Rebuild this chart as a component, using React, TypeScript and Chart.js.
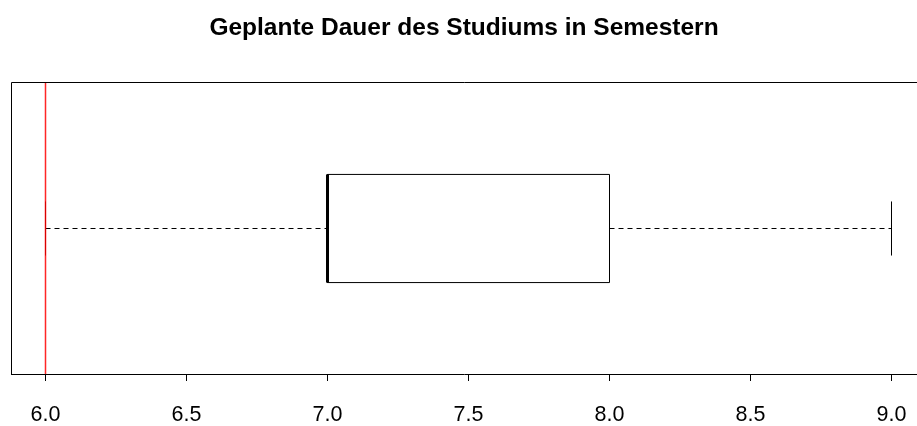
import React, { useEffect, useRef } from "react";
import { Chart, registerables } from "chart.js";

Chart.register(...registerables);

const titleText = "Geplante Dauer des Studiums in Semestern";
const whiskerLow = [6];
const quartile1 = [7];
const medianValue = [7];
const quartile3 = [8];
const whiskerHigh = [9];
const refLine = [6];
const tickValues = [6.0, 6.5, 7.0, 7.5, 8.0, 8.5, 9.0];

const BOX_HALF = 0.2;
const CAP_HALF = 0.1;
const CENTER = 1;

const framePlugin = {
  id: "frame",
  afterDraw(chart: any) {
    const { ctx, chartArea } = chart;
    ctx.save();
    ctx.strokeStyle = "#000";
    ctx.lineWidth = 1;
    ctx.beginPath();
    ctx.moveTo(Math.round(chartArea.left) + 0.5, Math.round(chartArea.bottom));
    ctx.lineTo(Math.round(chartArea.left) + 0.5, Math.round(chartArea.top) + 0.5);
    ctx.lineTo(chartArea.right + 2, Math.round(chartArea.top) + 0.5);
    ctx.stroke();
    ctx.restore();
  },
};

export default function App() {
  const ref = useRef<HTMLCanvasElement | null>(null);

  useEffect(() => {
    document.body.style.margin = "0";
    const canvas = ref.current;
    if (!canvas) return;
    Chart.defaults.font.family = "'Liberation Sans', Arial, sans-serif";
    Chart.defaults.color = "#000";

    const q1 = quartile1[0];
    const q3 = quartile3[0];
    const med = medianValue[0];
    const lo = whiskerLow[0];
    const hi = whiskerHigh[0];
    const yMin = 0.46185;
    const yMax = 1.54185;

    const blackLine = {
      showLine: true,
      borderColor: "#000",
      borderWidth: 1,
      pointRadius: 0,
      fill: false,
      order: 1,
    };

    const chart = new Chart(canvas, {
      type: "scatter",
      data: {
        datasets: [
          {
            ...blackLine,
            label: "whisker low",
            borderDash: [5, 4],
            data: [
              { x: lo, y: CENTER },
              { x: q1, y: CENTER },
            ],
          },
          {
            ...blackLine,
            label: "whisker high",
            borderDash: [5, 4],
            data: [
              { x: q3, y: CENTER },
              { x: hi, y: CENTER },
            ],
          },
          {
            ...blackLine,
            label: "cap low",
            data: [
              { x: lo, y: CENTER - CAP_HALF },
              { x: lo, y: CENTER + CAP_HALF },
            ],
          },
          {
            ...blackLine,
            label: "cap high",
            data: [
              { x: hi, y: CENTER - CAP_HALF },
              { x: hi, y: CENTER + CAP_HALF },
            ],
          },
          {
            ...blackLine,
            label: "box",
            data: [
              { x: q1, y: CENTER - BOX_HALF },
              { x: q3, y: CENTER - BOX_HALF },
              { x: q3, y: CENTER + BOX_HALF },
              { x: q1, y: CENTER + BOX_HALF },
              { x: q1, y: CENTER - BOX_HALF },
            ],
          },
          {
            ...blackLine,
            label: "median",
            borderWidth: 3,
            borderCapStyle: "butt",
            data: [
              { x: med, y: CENTER - BOX_HALF },
              { x: med, y: CENTER + BOX_HALF },
            ],
          },
          {
            ...blackLine,
            label: "reference",
            borderColor: "rgba(255,0,0,0.85)",
            borderWidth: 1.5,
            order: 0,
            data: [
              { x: refLine[0], y: yMin },
              { x: refLine[0], y: yMax },
            ],
          },
        ] as any,
      },
      options: {
        responsive: false,
        animation: false,
        layout: { padding: { left: 11, right: 0, top: 0, bottom: 0 } },
        plugins: {
          legend: { display: false },
          tooltip: { enabled: false },
          title: {
            display: true,
            text: titleText,
            font: { size: 24.5, weight: "bold" },
            color: "#000",
            padding: { top: 14, bottom: 38.6 },
          },
        },
        scales: {
          x: {
            type: "linear",
            min: 5.87766,
            max: 9.0904,
            grid: {
              drawOnChartArea: false,
              drawTicks: true,
              tickLength: 7,
              tickColor: "#000",
            },
            border: { display: true, color: "#000", width: 1 },
            afterBuildTicks: (scale: any) => {
              scale.ticks = tickValues.map((v) => ({ value: v }));
            },
            afterFit: (scale: any) => {
              scale.paddingLeft = 0;
              scale.paddingRight = 0;
              scale.height = 52;
            },
            ticks: {
              font: { size: 21.5 },
              color: "#000",
              padding: 21,
              maxRotation: 0,
              autoSkip: false,
              callback: (v: any) => Number(v).toFixed(1),
            },
          },
          y: {
            type: "linear",
            display: false,
            min: yMin,
            max: yMax,
          },
        },
      },
      plugins: [framePlugin],
    });

    return () => chart.destroy();
  }, []);

  return <canvas ref={ref} width={917} height={426} style={{ display: "block" }} />;
}
